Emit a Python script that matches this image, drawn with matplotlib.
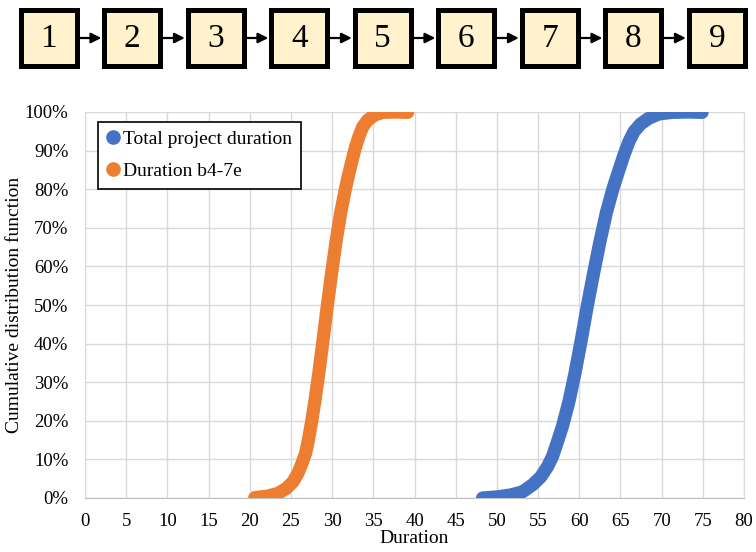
import matplotlib
matplotlib.use("Agg")
import matplotlib.pyplot as plt
from matplotlib.lines import Line2D
from matplotlib.patches import Rectangle
from matplotlib.ticker import PercentFormatter

# CDF points (duration, cumulative %)
total_dur = [48.26, 50.08, 51.7, 53.11, 54.32, 55.34, 56.14, 56.74, 57.3, 57.95,
             58.75, 59.48, 60.25, 61.0, 61.72, 62.55, 63.3, 64.1, 64.75, 65.43,
             66.03, 66.64, 67.45, 68.46, 69.67, 71.28, 73.3, 74.91]
total_cdf = [0.0, 0.3, 0.8, 1.6, 3.4, 5.5, 8.1, 10.7, 14.2, 18.5,
             25.0, 32.3, 41.0, 50.0, 58.0, 66.8, 74.0, 80.2, 84.5, 88.9,
             92.3, 94.9, 96.9, 98.4, 99.5, 99.9, 100.0, 99.9]
b47_dur = [20.61, 22.22, 23.43, 24.45, 25.25, 25.85, 26.34, 26.78, 27.12, 27.52,
           27.9, 28.38, 28.9, 29.4, 29.92, 30.5, 31.05, 31.55, 31.9, 32.38,
           32.8, 33.24, 33.73, 34.33, 35.14, 36.15, 37.77, 39.18]
b47_cdf = [0.1, 0.5, 1.2, 2.5, 4.2, 6.4, 9.0, 11.6, 15.0, 19.9,
           25.0, 32.3, 41.0, 49.5, 58.0, 66.8, 74.0, 79.4, 82.8, 87.1,
           90.6, 93.6, 96.2, 97.9, 99.2, 99.9, 100.0, 99.9]

steps = ["1", "2", "3", "4", "5", "6", "7", "8", "9"]
x_ticks = list(range(0, 81, 5))
y_ticks = list(range(0, 101, 10))

BLUE = "#4472C4"
ORANGE = "#ED7D31"
GRID = "#D9D9D9"

plt.rcParams["font.family"] = ["Liberation Serif", "DejaVu Serif"]
plt.rcParams["font.size"] = 13.5

fig = plt.figure(figsize=(7.56, 5.52), dpi=100)

# process chain on top (pixel coordinates)
top = fig.add_axes([0, 1 - 75 / 552, 1, 75 / 552])
top.set_xlim(0, 756)
top.set_ylim(75, 0)
top.axis("off")
box_w, box_h, gap = 56, 56, 83.5
for i, s in enumerate(steps):
    cx = 48.8 + i * gap
    top.add_patch(Rectangle((cx - box_w / 2, 10), box_w, box_h, facecolor="#FFF2CC",
                            edgecolor="black", linewidth=3.6))
    top.text(cx, 39, s, ha="center", va="center", fontsize=24)
    if i < len(steps) - 1:
        top.annotate("", xy=(cx + gap - box_w / 2 - 3, 38), xytext=(cx + box_w / 2 + 2, 38),
                     arrowprops=dict(arrowstyle="-|>", color="black", lw=1.6,
                                     mutation_scale=15, shrinkA=0, shrinkB=0))

x0, x1 = 85, 744
ax = fig.add_axes([x0 / 756, 1 - 498 / 552, (x1 - x0) / 756, (498 - 112) / 552])
ax.plot(total_dur, total_cdf, "-", color=BLUE, lw=9.5,
        solid_capstyle="round", solid_joinstyle="round", zorder=3)
ax.plot(b47_dur, b47_cdf, "-", color=ORANGE, lw=9.5,
        solid_capstyle="round", solid_joinstyle="round", zorder=3)

ax.set_xlim(0, 80)
ax.set_ylim(0, 100)
ax.set_xticks(x_ticks)
ax.set_yticks(y_ticks)
ax.yaxis.set_major_formatter(PercentFormatter(decimals=0))
ax.grid(True, color=GRID, lw=1)
ax.set_axisbelow(True)
ax.tick_params(axis="y", length=0, pad=12)
ax.tick_params(axis="x", length=0, pad=11)
for sp in ax.spines.values():
    sp.set_color(GRID)
ax.spines["bottom"].set_color("#BFBFBF")
ax.set_xlabel("Duration", fontsize=14, labelpad=0)
ax.set_ylabel("Cumulative distribution function", fontsize=14, labelpad=1)

handles = [Line2D([], [], ls="none", marker="o", ms=9.5, color=BLUE),
           Line2D([], [], ls="none", marker="o", ms=9.5, color=ORANGE)]
leg = ax.legend(handles, ["Total project duration", "Duration b4-7e"],
                loc="upper left", bbox_to_anchor=(0.02, 0.975), fontsize=14,
                frameon=True, fancybox=False, edgecolor="black", framealpha=1,
                handlelength=0.6, handletextpad=0.25, borderpad=0.45,
                labelspacing=0.75, borderaxespad=0)
leg.get_frame().set_linewidth(1.2)

fig.savefig("out.png", dpi=100)
